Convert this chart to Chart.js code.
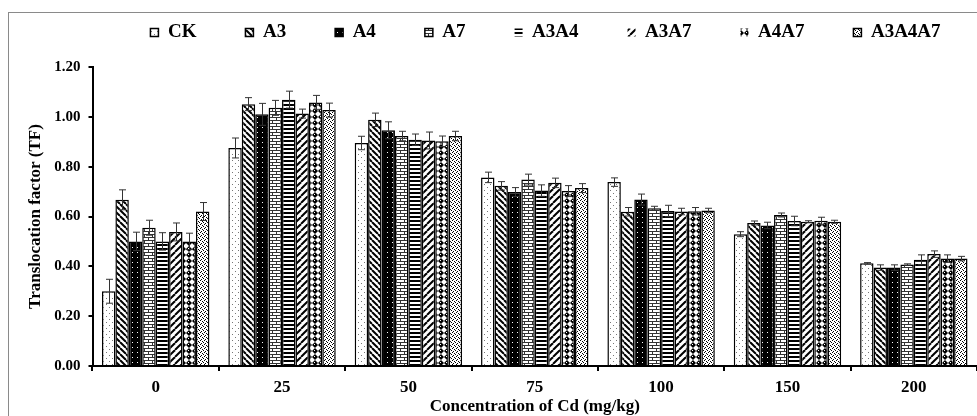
<!DOCTYPE html>
<html>
<head>
<meta charset="utf-8">
<script src="https://cdn.jsdelivr.net/npm/chart.js@4.4.1/dist/chart.umd.min.js"></script>
<style>
  html, body { margin: 0; padding: 0; background: #fff; }
  #wrap { position: relative; width: 977px; height: 416px; overflow: hidden; }
  #frame { position: absolute; left: 8px; top: 12px; width: 980px; height: 420px;
           border-left: 1.5px solid #8a8a8a; border-top: 1.5px solid #8a8a8a; }
  #chart { position: absolute; left: 0; top: 0; }
</style>
</head>
<body>
<div id="wrap"><div id="frame"></div><canvas id="chart" width="977" height="416"></canvas></div>
<script>
// 카테고리 (Cd 농도)
var categories = ['0', '25', '50', '75', '100', '150', '200'];

// 처리구별 값 / 오차
var ckValues     = [0.300, 0.875, 0.895, 0.757, 0.738, 0.529, 0.412];
var ckErrors     = [0.048, 0.040, 0.027, 0.021, 0.017, 0.010, 0.003];
var a3Values     = [0.667, 1.051, 0.988, 0.723, 0.619, 0.574, 0.395];
var a3Errors     = [0.040, 0.026, 0.027, 0.017, 0.017, 0.008, 0.011];
var a4Values     = [0.500, 1.010, 0.946, 0.698, 0.668, 0.564, 0.395];
var a4Errors     = [0.037, 0.044, 0.034, 0.018, 0.022, 0.013, 0.011];
var a7Values     = [0.555, 1.036, 0.923, 0.748, 0.633, 0.606, 0.407];
var a7Errors     = [0.030, 0.030, 0.019, 0.022, 0.008, 0.008, 0.003];
var a3a4Values   = [0.500, 1.069, 0.908, 0.704, 0.622, 0.582, 0.426];
var a3a4Errors   = [0.035, 0.034, 0.023, 0.023, 0.023, 0.019, 0.020];
var a3a7Values   = [0.538, 1.013, 0.905, 0.735, 0.620, 0.579, 0.449];
var a3a7Errors   = [0.036, 0.018, 0.034, 0.019, 0.013, 0.004, 0.013];
var a4a7Values   = [0.500, 1.058, 0.902, 0.702, 0.621, 0.583, 0.431];
var a4a7Errors   = [0.033, 0.028, 0.021, 0.022, 0.015, 0.014, 0.015];
var a3a4a7Values = [0.620, 1.027, 0.923, 0.714, 0.624, 0.579, 0.431];
var a3a4a7Errors = [0.036, 0.028, 0.019, 0.018, 0.009, 0.006, 0.009];

// y축 눈금
var yMin = 0, yMax = 1.2, yStep = 0.2;

// 범례 아이콘 테두리 없는 항목
var noBorderLegend = ['A3A4', 'A3A7', 'A4A7'];

var FONT = "'Liberation Serif', 'Times New Roman', serif";

// 패턴 채우기
function makePattern(w, h, draw) {
    var c = document.createElement('canvas');
    c.width = w; c.height = h;
    var g = c.getContext('2d');
    g.fillStyle = '#fff';
    g.fillRect(0, 0, w, h);
    draw(g, w, h);
    return g.createPattern(c, 'repeat');
}

function diag(g, s, up) {
    g.strokeStyle = '#000';
    g.lineWidth = 2;
    for (var k = -s; k <= s; k += s) {
        g.beginPath();
        if (up) { g.moveTo(k, s); g.lineTo(k + s, 0); }
        else { g.moveTo(k, 0); g.lineTo(k + s, s); }
        g.stroke();
    }
}

var patDots = makePattern(6, 6, function(g) {
    g.fillStyle = '#777';
    g.fillRect(1, 1, 1, 1);
    g.fillRect(4, 4, 1, 1);
});
var patDown = makePattern(6, 6, function(g, s) { diag(g, s, false); });
var patDark = makePattern(5, 5, function(g) {
    g.fillStyle = '#000';
    g.fillRect(0, 0, 5, 5);
    g.fillStyle = '#fff';
    g.fillRect(2, 2, 1, 1);
});
var patBrick = makePattern(8, 6, function(g) {
    g.fillStyle = '#333';
    g.fillRect(0, 0, 8, 1);
    g.fillRect(0, 3, 8, 1);
    g.fillRect(0, 0, 1, 3);
    g.fillRect(4, 3, 1, 3);
});
var patHoriz = makePattern(4, 4, function(g) {
    g.fillStyle = '#000';
    g.fillRect(0, 0, 4, 2);
});
var patUp = makePattern(7, 7, function(g, s) { diag(g, s, true); });
var patSphere = makePattern(6, 6, function(g) {
    g.fillStyle = '#000';
    g.beginPath();
    g.moveTo(3, 0); g.lineTo(6, 3); g.lineTo(3, 6); g.lineTo(0, 3);
    g.closePath();
    g.fill();
    g.fillStyle = '#fff';
    g.fillRect(2, 2, 1, 1);
});
var patConfetti = makePattern(4, 4, function(g) {
    g.fillStyle = '#000';
    g.fillRect(0, 0, 1, 1);
    g.fillRect(2, 1, 1, 1);
    g.fillRect(1, 3, 1, 1);
    g.fillRect(3, 2, 1, 1);
});

function series(label, values, errors, pattern) {
    return {
        label: label,
        data: values,
        errors: errors,
        backgroundColor: pattern,
        borderColor: '#000',
        borderWidth: 1.5,
        categoryPercentage: 0.85,
        barPercentage: 1.0
    };
}

// 오차 막대
var errorBars = {
    id: 'errorBars',
    afterDatasetsDraw: function(chart) {
        var ctx = chart.ctx, yScale = chart.scales.y;
        ctx.save();
        ctx.strokeStyle = '#333';
        ctx.lineWidth = 1;
        chart.data.datasets.forEach(function(ds, di) {
            var meta = chart.getDatasetMeta(di);
            meta.data.forEach(function(bar, i) {
                var v = ds.data[i], e = ds.errors[i];
                var top = yScale.getPixelForValue(v + e);
                var bottom = yScale.getPixelForValue(v - e);
                var x = Math.round(bar.x) + 0.5;
                ctx.beginPath();
                ctx.moveTo(x, top); ctx.lineTo(x, bottom);
                ctx.moveTo(x - 3.5, top); ctx.lineTo(x + 3.5, top);
                ctx.moveTo(x - 3.5, bottom); ctx.lineTo(x + 3.5, bottom);
                ctx.stroke();
            });
        });
        ctx.restore();
    }
};

// 범례 위치 조정 (간격은 넓게, 높이는 작게)
var LEGEND_HEIGHT = 67, LEGEND_TOP = -26, LEGEND_SHIFT = 57;
var legendPlacement = {
    id: 'legendPlacement',
    beforeInit: function(chart) {
        var legend = chart.legend;
        if (!legend) return;
        var fit = legend.fit;
        legend.fit = function() {
            fit.call(this);
            this.height = LEGEND_HEIGHT;
        };
    },
    afterLayout: function(chart) {
        var legend = chart.legend;
        legend.top = LEGEND_TOP;
        legend.left += LEGEND_SHIFT;
        legend.right += LEGEND_SHIFT;
    }
};

var ctx = document.getElementById('chart').getContext('2d');
new Chart(ctx, {
    type: 'bar',
    data: {
        labels: categories,
        datasets: [
            series('CK', ckValues, ckErrors, patDots),
            series('A3', a3Values, a3Errors, patDown),
            series('A4', a4Values, a4Errors, patDark),
            series('A7', a7Values, a7Errors, patBrick),
            series('A3A4', a3a4Values, a3a4Errors, patHoriz),
            series('A3A7', a3a7Values, a3a7Errors, patUp),
            series('A4A7', a4a7Values, a4a7Errors, patSphere),
            series('A3A4A7', a3a4a7Values, a3a4a7Errors, patConfetti)
        ]
    },
    options: {
        responsive: false,
        animation: false,
        devicePixelRatio: 1,
        layout: { padding: { left: 0, right: 0, top: 0, bottom: 0 } },
        plugins: {
            tooltip: { enabled: false },
            legend: {
                position: 'top',
                labels: {
                    boxWidth: 8,
                    boxHeight: 8,
                    padding: 49,
                    color: '#000',
                    font: { family: FONT, size: 19, weight: 'bold' },
                    generateLabels: function(chart) {
                        var items = Chart.defaults.plugins.legend.labels.generateLabels(chart);
                        items.forEach(function(it) {
                            if (noBorderLegend.indexOf(it.text) >= 0) it.strokeStyle = 'rgba(0,0,0,0)';
                        });
                        return items;
                    }
                }
            }
        },
        scales: {
            x: {
                grid: { offset: true, drawOnChartArea: false, tickLength: 5, color: '#000', lineWidth: 2 },
                border: { color: '#000', width: 2 },
                ticks: { color: '#000', padding: 6, font: { family: FONT, size: 17, weight: 'bold' } },
                title: {
                    display: true,
                    text: 'Concentration of Cd (mg/kg)',
                    color: '#000',
                    padding: { top: 0, bottom: -1 },
                    font: { family: FONT, size: 17, weight: 'bold' }
                },
                afterFit: function(s) { s.height = 50; }
            },
            y: {
                min: yMin,
                max: yMax,
                grid: { drawOnChartArea: false, tickLength: 4, color: '#000', lineWidth: 2 },
                border: { color: '#000', width: 2 },
                ticks: {
                    stepSize: yStep,
                    color: '#000',
                    padding: 8,
                    font: { family: FONT, size: 15, weight: 'bold' },
                    callback: function(v) { return Number(v).toFixed(2); }
                },
                title: {
                    display: true,
                    text: 'Translocation factor (TF)',
                    color: '#000',
                    padding: { top: 25, bottom: 0 },
                    font: { family: FONT, size: 17, weight: 'bold' }
                },
                afterFit: function(s) { s.width = 92.5; }
            }
        }
    },
    plugins: [errorBars, legendPlacement]
});
</script>
</body>
</html>
